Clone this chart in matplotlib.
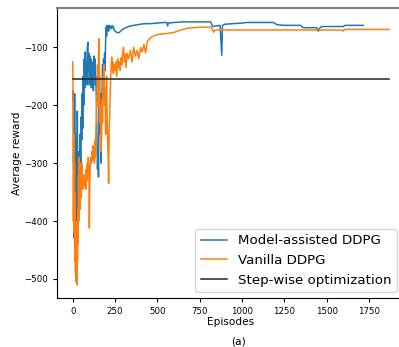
import matplotlib
matplotlib.use("Agg")
import matplotlib.pyplot as plt

# Model-assisted DDPG (episode, average reward)
blue_ep = [0, 3, 5, 7, 9, 11, 13, 15, 17, 19, 21, 23, 25, 27, 29, 31, 33, 35, 38, 41,
           44, 47, 50, 53, 56, 59, 62, 65, 68, 71, 74, 77, 80, 83, 86, 89, 92, 95, 98, 101,
           104, 107, 110, 113, 116, 119, 122, 125, 128, 131, 134, 137, 140, 143, 146, 149,
           152, 155, 158, 161, 164, 167, 170, 173, 176, 179, 182, 185, 188, 191, 194, 197,
           200, 203, 206, 209, 212, 215, 220, 225, 230, 235, 240, 245, 250, 260, 270, 280,
           290, 300, 320, 340, 360, 380, 400, 430, 460, 500, 540, 555, 560, 565, 600, 650,
           700, 750, 800, 815, 825, 850, 870, 880, 884, 900, 950, 1000, 1030, 1100, 1185,
           1207, 1250, 1345, 1361, 1440, 1450, 1460, 1473, 1597, 1610, 1715]
blue_val = [-191, -175, -300, -200, -430, -180, -360, -250, -470, -320, -440, -260, -400,
            -210, -330, -380, -300, -360, -280, -340, -250, -300, -220, -260, -180, -240,
            -150, -200, -120, -170, -108, -150, -125, -165, -100, -91, -140, -110, -165,
            -115, -150, -120, -170, -125, -160, -130, -175, -115, -145, -120, -165, -150,
            -200, -260, -310, -280, -324, -200, -150, -250, -180, -300, -220, -170, -130,
            -160, -120, -150, -110, -140, -90, -65, -80, -62, -70, -64, -72, -62, -66, -63,
            -68, -63, -65, -70, -72, -74, -75, -73, -70, -68, -65, -63, -62, -61, -60, -59,
            -59, -58, -57, -57, -63, -58, -57, -56, -56, -56, -56, -56, -64, -63, -62, -114,
            -62, -60, -59, -58, -57, -57, -57, -61, -62, -62, -66, -66, -72, -66, -64, -64,
            -62, -62]

# Vanilla DDPG
orange_ep = [0, 2, 4, 6, 8, 10, 12, 14, 16, 18, 20, 22, 24, 26, 28, 30, 32, 34, 36, 38,
             40, 42, 44, 46, 48, 50, 53, 56, 59, 62, 65, 68, 71, 74, 77, 80, 83, 86, 89, 92,
             95, 98, 101, 104, 107, 110, 113, 116, 119, 122, 125, 128, 131, 134, 137, 140,
             143, 146, 149, 152, 155, 158, 161, 164, 167, 170, 173, 176, 179, 182, 185, 188,
             191, 194, 197, 200, 203, 206, 209, 212, 215, 218, 221, 224, 227, 230, 233, 236,
             240, 245, 250, 255, 260, 265, 270, 275, 280, 285, 290, 295, 300, 305, 310, 315,
             320, 330, 340, 350, 360, 370, 380, 390, 400, 410, 420, 430, 440, 460, 480, 500,
             520, 560, 600, 640, 675, 720, 760, 813, 825, 831, 840, 900, 1000, 1100, 1200,
             1300, 1440, 1450, 1460, 1590, 1597, 1605, 1700, 1800, 1868]
orange_val = [-125, -200, -400, -250, -420, -300, -470, -350, -490, -400, -505, -450, -510,
              -430, -470, -380, -440, -320, -400, -290, -350, -300, -380, -330, -310, -360,
              -300, -340, -330, -345, -335, -320, -340, -330, -345, -310, -330, -300, -320,
              -290, -310, -412, -330, -300, -290, -300, -280, -295, -270, -290, -280, -300,
              -260, -290, -240, -210, -180, -130, -200, -110, -85, -160, -230, -200, -280,
              -260, -190, -230, -150, -190, -130, -200, -170, -250, -190, -150, -220, -260,
              -290, -335, -240, -220, -180, -150, -130, -117, -140, -125, -145, -130, -140,
              -125, -150, -120, -135, -125, -140, -118, -130, -110, -100, -125, -112, -135,
              -110, -120, -105, -125, -100, -115, -105, -120, -100, -108, -95, -110, -90,
              -83, -80, -78, -77, -76, -74, -70, -67, -66, -65, -65, -69, -74, -70, -70, -70,
              -70, -70, -70, -70, -72, -70, -70, -72, -69, -69, -69, -69]

# Step-wise optimization
step_ep = [0, 1868]
step_val = [-155, -155]

xticks = [0, 250, 500, 750, 1000, 1250, 1500, 1750]
yticks = [-500, -400, -300, -200, -100]

fig = plt.figure(figsize=(3.99, 3.47), dpi=100)
ax = fig.add_axes([57 / 399, 1 - 298 / 347, 348 / 399, 290 / 347])

ax.plot(blue_ep, blue_val, color="#1f77b4", lw=1.1, label="Model-assisted DDPG")
ax.plot(orange_ep, orange_val, color="#ff7f0e", lw=1.1, label="Vanilla DDPG")
ax.plot(step_ep, step_val, color="#222222", lw=1.1, label="Step-wise optimization")

ax.set_xlim(-93, 1962)
ax.set_ylim(-533, -32)
ax.set_xticks(xticks)
ax.set_yticks(yticks)
ax.tick_params(labelsize=6.2, length=3, width=0.8)
ax.spines["top"].set_color("#808080")
ax.spines["top"].set_linewidth(1.5)

ax.set_xlabel("Episodes", fontsize=7.6, labelpad=1)
ax.set_ylabel("Average reward", fontsize=7.6, labelpad=1.5)

leg = ax.legend(loc="lower right", fontsize=9.6, framealpha=0.8,
                bbox_to_anchor=(397 / 399, 1 - 292 / 347), bbox_transform=fig.transFigure,
                borderaxespad=0.0)

fig.text(239 / 399, 1 - 346.5 / 347, "(a)", fontsize=7.6, ha="center", va="bottom")

fig.savefig("out.png", dpi=100)
